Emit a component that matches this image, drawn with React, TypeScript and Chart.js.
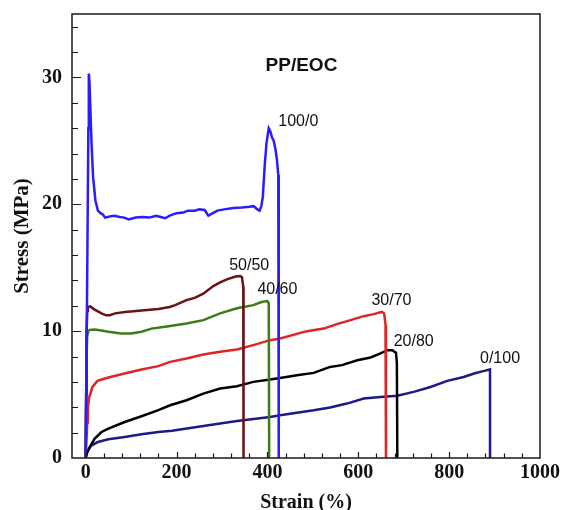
import React, { useEffect, useRef } from "react";
import { Chart, registerables } from "chart.js";

Chart.register(...registerables);

// ---- data (strain %, stress MPa) ----
const strain100_0 = [0, 2, 4.5, 6, 7, 8.5, 10, 13, 16.5, 21.5, 27, 33, 38, 43, 55, 64, 75, 85, 95, 110, 125, 140, 155, 165, 175, 185, 200, 215, 225, 240, 250, 262, 270, 280, 290, 305, 325, 345, 360, 370, 378, 383, 387, 390, 394, 398, 403, 406, 410, 414, 418, 421, 424, 425, 425];
const stress100_0 = [0, 8, 19, 26, 30.3, 29.6, 28.0, 24.8, 22.1, 20.3, 19.5, 19.3, 19.2, 18.95, 19.05, 19.1, 19.0, 18.95, 18.8, 18.95, 19.0, 18.95, 19.1, 19.0, 18.9, 19.1, 19.3, 19.35, 19.5, 19.5, 19.6, 19.55, 19.1, 19.3, 19.5, 19.6, 19.7, 19.75, 19.8, 19.85, 19.6, 19.5, 19.9, 20.6, 23.0, 24.8, 26.0, 25.8, 25.3, 25.0, 24.3, 23.5, 22.3, 15, 0];

const strain50_50 = [0, 1, 2, 3.5, 5, 10, 20, 35, 45, 53, 65, 87, 123, 160, 185, 197, 222, 240, 259, 281, 296, 311, 330, 340, 344, 347, 347.5];
const stress50_50 = [0, 5, 10, 11.6, 11.9, 11.95, 11.7, 11.4, 11.25, 11.25, 11.4, 11.5, 11.62, 11.75, 11.9, 12.05, 12.45, 12.62, 12.95, 13.55, 13.85, 14.08, 14.3, 14.35, 14.25, 13.5, 0];

const strain40_60 = [0, 1, 2, 3.5, 6, 9, 20, 35, 50, 78, 100, 123, 145, 175, 197, 222, 259, 296, 333, 369, 387, 400, 403, 404];
const stress40_60 = [0, 4, 8, 9.6, 10.0, 10.1, 10.13, 10.05, 9.95, 9.82, 9.82, 9.95, 10.2, 10.34, 10.47, 10.6, 10.87, 11.4, 11.8, 12.05, 12.3, 12.37, 12.2, 0];

const strain30_70 = [0, 2, 3.5, 5, 8, 15, 26, 50, 86, 123, 160, 186, 222, 259, 296, 333, 369, 406, 428, 487, 524, 553, 583, 612, 634, 652, 657, 660, 661];
const stress30_70 = [0, 1.5, 2.8, 4.0, 4.8, 5.6, 6.08, 6.35, 6.66, 6.98, 7.24, 7.58, 7.84, 8.16, 8.37, 8.55, 8.9, 9.29, 9.42, 10.0, 10.2, 10.55, 10.87, 11.18, 11.34, 11.52, 11.4, 10.5, 0];

const strain20_80 = [0, 3, 9, 20, 35, 50, 86, 123, 160, 186, 222, 259, 296, 333, 369, 406, 428, 465, 502, 538, 564, 598, 627, 649, 664, 675, 683, 685, 686];
const stress20_80 = [0, 0.4, 0.87, 1.53, 2.05, 2.32, 2.84, 3.29, 3.77, 4.16, 4.55, 5.08, 5.48, 5.66, 6.0, 6.19, 6.3, 6.53, 6.71, 7.18, 7.32, 7.71, 7.92, 8.24, 8.5, 8.5, 8.3, 7.5, 0];

const strain0_100 = [0, 2, 5, 13, 27, 50, 86, 123, 160, 190, 259, 333, 406, 428, 502, 538, 575, 612, 649, 686, 722, 759, 796, 832, 855, 877, 890, 890];
const stress0_100 = [0, 0.3, 0.6, 1.0, 1.26, 1.47, 1.66, 1.87, 2.05, 2.15, 2.53, 2.92, 3.24, 3.37, 3.76, 3.98, 4.29, 4.69, 4.8, 4.9, 5.21, 5.6, 6.08, 6.39, 6.66, 6.87, 6.98, 0];

const seriesNames = ["100/0", "50/50", "40/60", "30/70", "20/80", "0/100"];
const seriesColors = ["#2a1cff", "#6b1212", "#3c7c18", "#e02424", "#000000", "#1c1a86"];
const seriesStrain = [strain100_0, strain50_50, strain40_60, strain30_70, strain20_80, strain0_100];
const seriesStress = [stress100_0, stress50_50, stress40_60, stress30_70, stress20_80, stress0_100];

// label anchors in data units (left edge, vertical centre)
const labelStrain = [424, 316, 378, 629, 678, 868];
const labelStress = [26.5, 15.2, 13.25, 12.43, 9.16, 7.82];

const chartTitle = "PP/EOC";
const titleStrain = 475;
const titleStress = 30.9;

const xTickLabels = [0, 200, 400, 600, 800, 1000];
const yTickLabels = [0, 10, 20, 30];

const X_MIN = -30;
const X_MAX = 1000;
const Y_MIN = 0;
const Y_MAX = 35;

const serif = "'Liberation Serif', 'Times New Roman', serif";
const sans = "'Liberation Sans', Arial, sans-serif";

const framePlugin = {
  id: "framePlugin",
  afterDatasetsDraw(chart: any) {
    const { ctx, scales } = chart;
    const x = scales.x;
    const y = scales.y;
    ctx.save();
    ctx.fillStyle = "#111";
    ctx.textBaseline = "middle";
    ctx.textAlign = "left";
    ctx.font = `16px ${sans}`;
    seriesNames.forEach((n, i) => {
      ctx.fillText(n, x.getPixelForValue(labelStrain[i]), y.getPixelForValue(labelStress[i]));
    });
    ctx.font = `bold 19px ${sans}`;
    ctx.textAlign = "center";
    ctx.fillText(chartTitle, x.getPixelForValue(titleStrain), y.getPixelForValue(titleStress));
    ctx.restore();
  },
  afterDraw(chart: any) {
    const { ctx, chartArea: a, scales } = chart;
    const x = scales.x;
    const y = scales.y;
    ctx.save();
    ctx.strokeStyle = "#1a1a1a";
    ctx.lineWidth = 1.5;
    ctx.strokeRect(a.left, a.top, a.right - a.left, a.bottom - a.top);
    ctx.lineWidth = 1.2;
    ctx.beginPath();
    for (let v = 0; v < X_MAX; v += 40) {
      const px = Math.round(x.getPixelForValue(v)) + 0.5;
      const len = v % 200 === 0 ? 6 : 4.5;
      ctx.moveTo(px, a.bottom);
      ctx.lineTo(px, a.bottom - len);
    }
    for (let v = 2; v < Y_MAX; v += 2) {
      const py = Math.round(y.getPixelForValue(v)) + 0.5;
      const len = v % 10 === 0 ? 9 : 6;
      ctx.moveTo(a.left, py);
      ctx.lineTo(a.left + len, py);
    }
    ctx.stroke();
    ctx.restore();
  },
};

const zeroPad = (s: any) => {
  s.paddingTop = 0;
  s.paddingBottom = 0;
  s.paddingLeft = 0;
  s.paddingRight = 0;
};

export default function App() {
  const ref = useRef<HTMLCanvasElement | null>(null);
  useEffect(() => {
    if (!ref.current) return;
    const datasets = seriesNames.map((name, i) => ({
      label: name,
      data: seriesStrain[i].map((s, k) => ({ x: s, y: seriesStress[i][k] })),
      borderColor: seriesColors[i],
      backgroundColor: seriesColors[i],
      borderWidth: 2.5,
      pointRadius: 0,
      showLine: true,
      tension: 0,
      fill: false,
    }));
    const chart = new Chart(ref.current, {
      type: "scatter",
      data: { datasets },
      options: {
        animation: false,
        responsive: false,
        devicePixelRatio: 1,
        layout: { padding: { top: 14, right: 21, left: 0, bottom: 0 } },
        plugins: { legend: { display: false }, tooltip: { enabled: false } },
        scales: {
          x: {
            type: "linear",
            min: X_MIN,
            max: X_MAX,
            afterFit: (s: any) => { s.height = 52; zeroPad(s); },
            afterBuildTicks: (s: any) => { s.ticks = xTickLabels.map((v) => ({ value: v })); },
            grid: { display: false, drawTicks: false },
            border: { display: false },
            ticks: { padding: 3, color: "#111", font: { family: serif, size: 20, weight: "bold" }, maxRotation: 0, autoSkip: false, callback: (v: any) => String(v) },
            title: { display: true, text: "Strain (%)", color: "#111", font: { family: serif, size: 20, weight: "bold" }, padding: { top: 0, bottom: -5 } },
          },
          y: {
            type: "linear",
            min: Y_MIN,
            max: Y_MAX,
            afterFit: (s: any) => { s.width = 72; zeroPad(s); },
            afterBuildTicks: (s: any) => { s.ticks = yTickLabels.map((v) => ({ value: v })); },
            grid: { display: false, drawTicks: false },
            border: { display: false },
            ticks: { padding: 10, color: "#111", font: { family: serif, size: 20, weight: "bold" }, autoSkip: false, callback: (v: any) => String(v) },
            title: { display: true, text: "Stress (MPa)", color: "#111", font: { family: serif, size: 21, weight: "bold" }, padding: { top: 10, bottom: 0 } },
          },
        },
      },
      plugins: [framePlugin],
    });
    return () => chart.destroy();
  }, []);
  return (
    <div style={{ position: "absolute", left: 0, top: 0, width: 561, height: 510, background: "#fff" }}>
      <canvas ref={ref} width={561} height={510} style={{ width: 561, height: 510, display: "block" }} />
    </div>
  );
}
